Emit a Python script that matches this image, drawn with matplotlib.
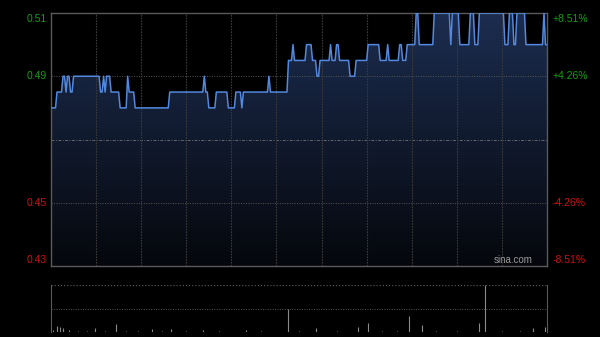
import numpy as np
import matplotlib.pyplot as plt
from matplotlib.colors import LinearSegmentedColormap

# intraday price, as runs: minute where a level starts, and the level
run_start = [0, 4, 8, 10, 11, 13, 15, 33, 35, 36, 37, 40, 46, 51, 52, 56, 79, 102, 103, 105,
             110, 118, 123, 127, 128, 145, 146, 158, 161, 162, 170, 174, 177, 179, 186, 187, 190, 192, 199, 203,
             211, 219, 224, 225, 232, 234, 237, 243, 245, 255, 266, 267, 272, 279, 282, 285, 302, 305, 308, 310,
             316, 328, 329]
run_price = [0.48, 0.485, 0.49, 0.485, 0.49, 0.485, 0.49, 0.485, 0.49, 0.485,
             0.49, 0.485, 0.48, 0.49, 0.485, 0.48, 0.485, 0.49, 0.485, 0.48,
             0.485, 0.48, 0.485, 0.48, 0.485, 0.49, 0.485, 0.495, 0.50, 0.495,
             0.50, 0.495, 0.49, 0.495, 0.50, 0.495, 0.50, 0.495, 0.49, 0.495,
             0.50, 0.495, 0.50, 0.495, 0.50, 0.495, 0.50, 0.51, 0.50, 0.51,
             0.50, 0.51, 0.50, 0.51, 0.50, 0.51, 0.50, 0.51, 0.50, 0.51,
             0.50, 0.51, 0.50]
n_min = 331
prev_close = 0.47

# volume (relative to the day's max)
vol_min = [1, 4, 6, 8, 12, 18, 24, 29, 36, 43, 50, 58, 67, 74, 80, 90, 101, 112, 130, 140,
           158, 165, 176, 190, 204, 211, 220, 230, 238, 247, 256, 270, 285, 289, 300, 312, 321, 329]
vol_val = [0.05, 0.13, 0.10, 0.08, 0.04, 0.03, 0.03, 0.09, 0.03, 0.17, 0.03, 0.03, 0.07, 0.03, 0.07,
           0.03, 0.04, 0.03, 0.04, 0.03, 0.50, 0.03, 0.08, 0.03, 0.11, 0.20, 0.03, 0.03, 0.34, 0.15,
           0.03, 0.03, 0.20, 1.00, 0.03, 0.03, 0.08, 0.10]

left_ticks = [0.51, 0.49, 0.45, 0.43]
right_ticks = ['+8.51%', '+4.26%', '-4.26%', '-8.51%']

lens = np.diff(run_start + [n_min])
price = np.repeat(run_price, lens)
t = np.arange(n_min)

plt.rcParams['font.family'] = ['Liberation Sans', 'DejaVu Sans']
fig = plt.figure(figsize=(6, 3.37), dpi=100, facecolor='black')
ax = fig.add_axes([51/600, 1-266/337, 496/600, 253/337])
ax.set_facecolor('black')
ax.set_xlim(0, n_min - 1)
ax.set_ylim(0.43, 0.51)

# gradient fill under the line
poly = ax.fill_between(t, price, 0.43, color='none', lw=0)
cmap = LinearSegmentedColormap.from_list('g', ['#05070c', '#1c2d50'])
grad = np.linspace(0, 1, 256).reshape(-1, 1)
im = ax.imshow(grad, cmap=cmap, aspect='auto', origin='lower',
               extent=[0, n_min - 1, 0.43, 0.51], zorder=1)
im.set_clip_path(poly.get_paths()[0], transform=ax.transData)

ax.plot(t, price, color='#5289de', lw=1.1, zorder=3)

for y in [0.49, 0.45]:
    ax.axhline(y, color='#555555', lw=0.7, ls=(0, (1, 1.5)), zorder=2)
ax.axhline(prev_close, color='#666666', lw=0.7, ls=(0, (3, 1.5, 1, 1.5)), zorder=2)
for x in range(30, 330, 30):
    ax.axvline(x, color='#3a3a3a', lw=0.8, ls=(0, (1.5, 1)), zorder=2)

for s in ax.spines.values():
    s.set_color('#5a5a5a')
    s.set_linewidth(1)
ax.set_xticks([])
ax.set_yticks([])

for i, (v, p) in enumerate(zip(left_ticks, right_ticks)):
    col = '#0fa00f' if v > prev_close else '#d01010'
    va = 'top' if i == 0 else ('bottom' if i == 3 else 'center')
    yy = v + (-0.0003 if i == 0 else (0.0003 if i == 3 else 0))
    ax.text(-0.008, yy, f'{v:.2f}', transform=ax.get_yaxis_transform(),
            ha='right', va=va, color=col, fontsize=7.5)
    ax.text(1.012, yy, p, transform=ax.get_yaxis_transform(),
            ha='left', va=va, color=col, fontsize=7.5)

ax.text(0.97, 0.005, 'sina.com', transform=ax.transAxes, ha='right', va='bottom',
        color='#9a9a9a', fontsize=7, zorder=4)

# volume panel
vx = fig.add_axes([51/600, 1-332/337, 496/600, 47/337])
vx.set_facecolor('black')
vx.set_xlim(0, n_min - 1)
vx.set_ylim(0, 1)
vx.vlines(vol_min, 0, vol_val, color='#8a8a8a', lw=0.8)
vx.axhline(0.5, color='#555555', lw=0.7, ls=(0, (1, 1.5)))
vx.axhline(1.0, color='#555555', lw=0.9, ls=(0, (1, 1.5)))
vx.axhline(0.0, color='#555555', lw=0.7, ls=(0, (1, 1.5)))
for k in ['top', 'bottom']:
    vx.spines[k].set_visible(False)
for k in ['left', 'right']:
    vx.spines[k].set_color('#5a5a5a')
vx.set_xticks([])
vx.set_yticks([])

fig.savefig('out.png', dpi=100, facecolor='black')
